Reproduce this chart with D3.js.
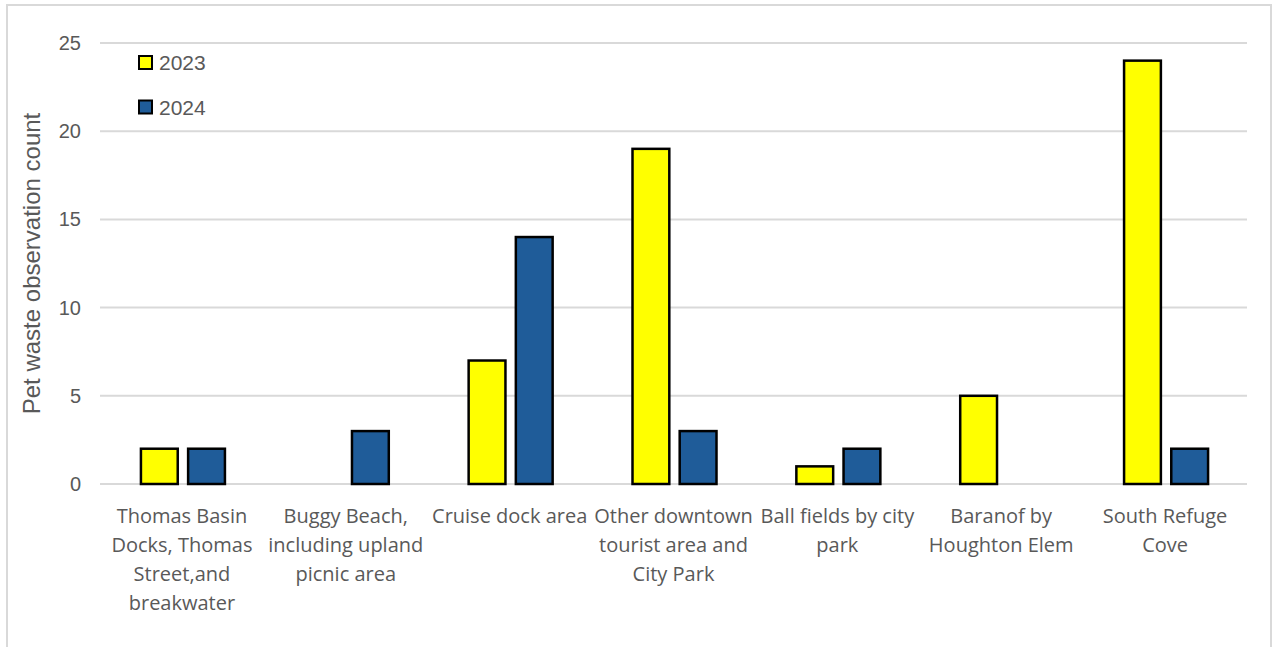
<!DOCTYPE html>
<html>
<head>
<meta charset="utf-8">
<script src="https://cdn.jsdelivr.net/npm/d3@7"></script>
<style>
  body { margin: 0; background: #fff; }
  svg { display: block; }
</style>
</head>
<body>
<div id="chart"></div>
<script>
// pet waste observations by site
var sites = [
  ["Thomas Basin", "Docks, Thomas", "Street,and", "breakwater"],
  ["Buggy Beach,", "including upland", "picnic area"],
  ["Cruise dock area"],
  ["Other downtown", "tourist area and", "City Park"],
  ["Ball fields by city", "park"],
  ["Baranof by", "Houghton Elem"],
  ["South Refuge", "Cove"]
];
var years = ["2023", "2024"];
var counts2023 = [2, null, 7, 19, 1, 5, 24];
var counts2024 = [2, 3, 14, 3, 2, null, 2];
var yTicks = [0, 5, 10, 15, 20, 25];
var yTitle = "Pet waste observation count";

var W = 1272, H = 647;
var margin = { top: 43, right: 25, bottom: 163, left: 100 };
var plotW = W - margin.left - margin.right,
    plotH = H - margin.top - margin.bottom;

var colors = d3.scaleOrdinal().domain(years).range(["#ffff00", "#1f5c99"]);

var svg = d3.select("#chart").append("svg")
  .attr("width", W).attr("height", H);

// outer frame
svg.append("path")
  .attr("d", "M7,647 V5 H1271 V647")
  .attr("fill", "none")
  .attr("stroke", "#d9d9d9")
  .attr("stroke-width", 2);

var g = svg.append("g").attr("transform", "translate(" + margin.left + "," + margin.top + ")");

var x0 = d3.scaleBand().domain(d3.range(sites.length)).range([0, plotW]);
var x1 = d3.scaleBand().domain(years).range([-41, 43]).paddingInner(0.22);
var y = d3.scaleLinear().domain([0, 25]).range([plotH, 0]);

// gridlines
g.append("g").selectAll("line")
  .data(yTicks).enter().append("line")
  .attr("x1", 0).attr("x2", plotW)
  .attr("y1", function (d) { return y(d); })
  .attr("y2", function (d) { return y(d); })
  .attr("stroke", "#d9d9d9")
  .attr("stroke-width", 2);

// y tick labels
g.append("g").selectAll("text")
  .data(yTicks).enter().append("text")
  .attr("x", -19)
  .attr("y", function (d) { return y(d); })
  .attr("dy", "0.35em")
  .attr("text-anchor", "end")
  .attr("font-family", "Liberation Sans, Arial, sans-serif")
  .attr("font-size", "20px")
  .attr("fill", "#595959")
  .text(function (d) { return d; });

// y title
svg.append("text")
  .attr("transform", "translate(40," + (margin.top + plotH / 2) + ") rotate(-90)")
  .attr("text-anchor", "middle")
  .attr("font-family", "Liberation Sans, Arial, sans-serif")
  .attr("font-size", "24px")
  .attr("fill", "#595959")
  .text(yTitle);

// bars
var rows = sites.map(function (s, i) {
  return { i: i, vals: [{ year: "2023", v: counts2023[i] }, { year: "2024", v: counts2024[i] }] };
});

var grp = g.append("g").selectAll("g")
  .data(rows).enter().append("g")
  .attr("transform", function (d) { return "translate(" + (x0(d.i) + x0.bandwidth() / 2) + ",0)"; });

grp.selectAll("rect")
  .data(function (d) { return d.vals.filter(function (v) { return v.v != null; }); })
  .enter().append("rect")
  .attr("x", function (d) { return x1(d.year); })
  .attr("width", x1.bandwidth())
  .attr("y", function (d) { return y(d.v); })
  .attr("height", function (d) { return y(0) - y(d.v); })
  .attr("fill", function (d) { return colors(d.year); })
  .attr("stroke", "#000")
  .attr("stroke-width", 2.5);

// category labels
var lab = g.append("g").selectAll("text")
  .data(rows).enter().append("text")
  .attr("text-anchor", "middle")
  .attr("font-family", "Open Sans, sans-serif")
  .attr("font-size", "20px")
  .attr("fill", "#595959")
  .attr("transform", function (d) { return "translate(" + (x0(d.i) + x0.bandwidth() / 2) + "," + (plotH + 39) + ")"; });

lab.selectAll("tspan")
  .data(function (d) { return sites[d.i]; })
  .enter().append("tspan")
  .attr("x", 0)
  .attr("dy", function (d, k) { return k === 0 ? 0 : 29; })
  .text(function (d) { return d; });

// legend
var leg = svg.append("g").selectAll("g")
  .data(years).enter().append("g")
  .attr("transform", function (d, i) { return "translate(139," + (56 + i * 44.5) + ")"; });

leg.append("rect")
  .attr("width", 13).attr("height", 13)
  .attr("fill", function (d) { return colors(d); })
  .attr("stroke", "#000")
  .attr("stroke-width", 2);

leg.append("text")
  .attr("x", 20).attr("y", 7)
  .attr("dy", "0.35em")
  .attr("font-family", "Liberation Sans, Arial, sans-serif")
  .attr("font-size", "21px")
  .attr("fill", "#595959")
  .text(function (d) { return d; });
</script>
</body>
</html>
